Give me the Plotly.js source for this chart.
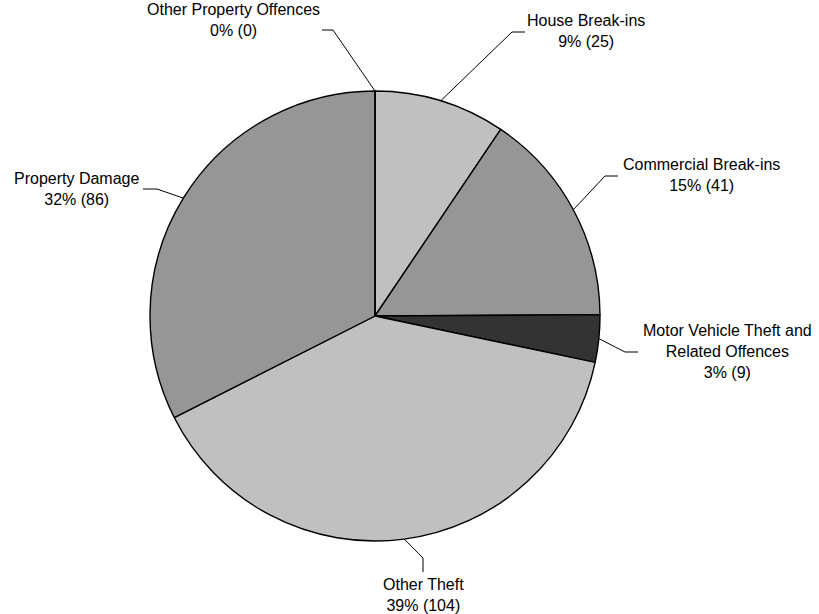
<!DOCTYPE html>
<html>
<head>
<meta charset="utf-8">
<script src="https://cdn.plot.ly/plotly-3.0.1.min.js"></script>
<style>html,body{margin:0;padding:0;background:#fff;}#chart{width:819px;height:614px;}</style>
</head>
<body>
<div id="chart"></div>
<script>
// ---- data ----
var categories = ["House Break-ins", "Commercial Break-ins", "Motor Vehicle Theft and<br>Related Offences", "Other Theft", "Property Damage", "Other Property Offences"];
var counts = [25, 41, 9, 104, 86, 0];
var sliceColors = ["#c0c0c0", "#969696", "#333333", "#c0c0c0", "#969696", "#333333"];

// ---- layout config (pixels) ----
var W = 819, H = 614;
var CX = 375, CY = 316, R = 225;
// label block centre, elbow point and line end (pixels)
var labelPos = [
  {tx: 586, ty: 31,  ex: 512, ey: 32,  lx: 525, ly: 32},
  {tx: 701, ty: 175, ex: 605, ey: 176, lx: 618, ly: 176},
  {tx: 727, ty: 351, ex: 625, ey: 352, lx: 638, ly: 352},
  {tx: 423, ty: 595, ex: 423, ey: 558, lx: 423, ly: 572},
  {tx: 76,  ty: 189, ex: 157, ey: 189, lx: 143, ly: 189},
  {tx: 233, ty: 20,  ex: 333, ey: 30,  lx: 322, ly: 30}
];

function px(x) { return x / W; }
function py(y) { return 1 - y / H; }

var total = counts.reduce(function (a, b) { return a + b; }, 0);

var trace = {
  type: "pie",
  labels: categories,
  values: counts,
  sort: false,
  direction: "clockwise",
  rotation: 0,
  textinfo: "none",
  hoverinfo: "label+value+percent",
  marker: {colors: sliceColors, line: {color: "#000", width: 1.4}},
  domain: {x: [px(CX - R), px(CX + R)], y: [py(CY + R), py(CY - R)]},
  showlegend: false
};

var annotations = [], shapes = [];
var cum = 0;
for (var i = 0; i < counts.length; i++) {
  var mid = (cum + counts[i] / 2) / total * 2 * Math.PI;
  cum += counts[i];
  var sx = CX + R * Math.sin(mid), sy = CY - R * Math.cos(mid);
  var p = labelPos[i];
  var pct = Math.round(counts[i] / total * 100);
  annotations.push({
    xref: "paper", yref: "paper", x: px(p.tx), y: py(p.ty),
    xanchor: "center", yanchor: "middle", showarrow: false, align: "center",
    text: categories[i] + "<br>" + pct + "% (" + counts[i] + ")",
    font: {family: "Liberation Sans, Arial, sans-serif", size: 16, color: "#000"}
  });
  shapes.push({type: "line", xref: "paper", yref: "paper", x0: px(sx), y0: py(sy), x1: px(p.ex), y1: py(p.ey), line: {color: "#000", width: 1}});
  shapes.push({type: "line", xref: "paper", yref: "paper", x0: px(p.ex), y0: py(p.ey), x1: px(p.lx), y1: py(p.ly), line: {color: "#000", width: 1}});
}

var layout = {
  width: W, height: H,
  margin: {l: 0, r: 0, t: 0, b: 0},
  paper_bgcolor: "#fff", plot_bgcolor: "#fff",
  annotations: annotations,
  shapes: shapes
};

Plotly.newPlot("chart", [trace], layout, {displayModeBar: false, staticPlot: true});
</script>
</body>
</html>
